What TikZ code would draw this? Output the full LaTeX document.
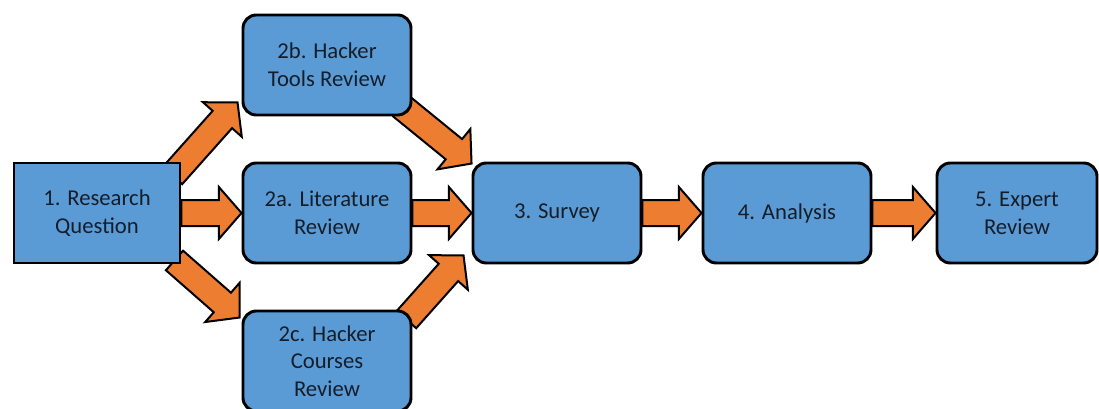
\documentclass[tikz,border=0pt]{standalone}
\usepackage{fontspec}
\setmainfont{Carlito}
\usetikzlibrary{positioning,calc,backgrounds}
\definecolor{boxblue}{HTML}{5B9BD5}
\definecolor{arroworange}{HTML}{ED7D31}
\definecolor{textnavy}{HTML}{131E2A}
\newcommand{\arrbody}{9.75pt}
\newcommand{\arrhead}{19.5pt}
\newcommand{\arrtip}{17pt}
\tikzset{
    on grid,
    x=0.75pt,
    y=0.75pt,
    node distance=111pt and 172.5pt,
    stepbox/.style = {
        draw,
        shape=rectangle,
        fill=boxblue,
        text=textnavy,
        align=center,
        font=\fontsize{17}{20.8}\selectfont,
        minimum width=126pt,
        minimum height=75pt,
        inner sep=3pt,
        line width=2.2pt,
        rounded corners=10pt
    },
    startbox/.style = {
        stepbox,
        sharp corners,
        minimum width=124.5pt
    },
    blockarrow/.style = {
        draw=black,
        fill=arroworange,
        line width=1.5pt,
        line join=miter,
        to path={
            let \p1=($(\tikztotarget)-(\tikztostart)$),
                \n1={atan2(\y1,\x1)},
                \n2={veclen(\x1,\y1)-\arrtip}
            in -- ++(\n1-90:\arrbody) -- ++(\n1:\n2) -- ++(\n1-90:\arrhead-\arrbody)
               -- (\tikztotarget)
               -- ($(\tikztostart)+(\n1:\n2)+(\n1+90:\arrhead)$)
               -- ++(\n1-90:\arrhead-\arrbody) -- ++(\n1+180:\n2) -- cycle
        }
    }
}

\begin{document}
\begin{tikzpicture}
    \node[stepbox] (lit) {2a. Literature\\Review};
    \useasboundingbox ($(lit.center)+(-327,-195)$) rectangle ($(lit.center)+(772,213)$);
    \node[startbox, left=of lit] (rq) {1. Research\\Question};
    \node[stepbox, above=of lit] (tools) {2b. Hacker\\Tools Review};
    \node[stepbox, below=of lit] (courses) {2c. Hacker\\Courses\\Review};
    \node[stepbox, right=of lit] (survey) {3. Survey};
    \node[stepbox, right=of survey] (analysis) {4. Analysis};
    \node[stepbox, right=of analysis, minimum width=120pt] (expert) {5. Expert\\Review};

    % ends of the slanted arrows, tucked under the box corners
    \coordinate (toolsout) at ($(rq.north east)+(-9,-14)$);
    \coordinate (toolsin) at ($(tools.south west)+(-4,14)$);
    \coordinate (toolsdone) at ($(tools.south east)+(-11,10)$);
    \coordinate (surveytop) at ($(survey.north west)+(0,-2)$);
    \coordinate (coursesout) at ($(rq.south east)+(-7,4)$);
    \coordinate (coursesin) at ($(courses.north west)+(-2,-8)$);
    \coordinate (coursesdone) at ($(courses.north east)+(-6,-10)$);
    \coordinate (surveybot) at ($(survey.south west)+(-8,9)$);

    \begin{pgfonlayer}{background}
        \path[blockarrow] (rq.east) to (lit.west);
        \path[blockarrow] (toolsout) to (toolsin);
        \path[blockarrow] (coursesout) to (coursesin);
        \path[blockarrow] (lit.east) to (survey.west);
        \path[blockarrow] (toolsdone) to (surveytop);
        \path[blockarrow] (coursesdone) to (surveybot);
        \path[blockarrow] (survey.east) to (analysis.west);
        \path[blockarrow] (analysis.east) to (expert.west);
    \end{pgfonlayer}
\end{tikzpicture}
\end{document}
